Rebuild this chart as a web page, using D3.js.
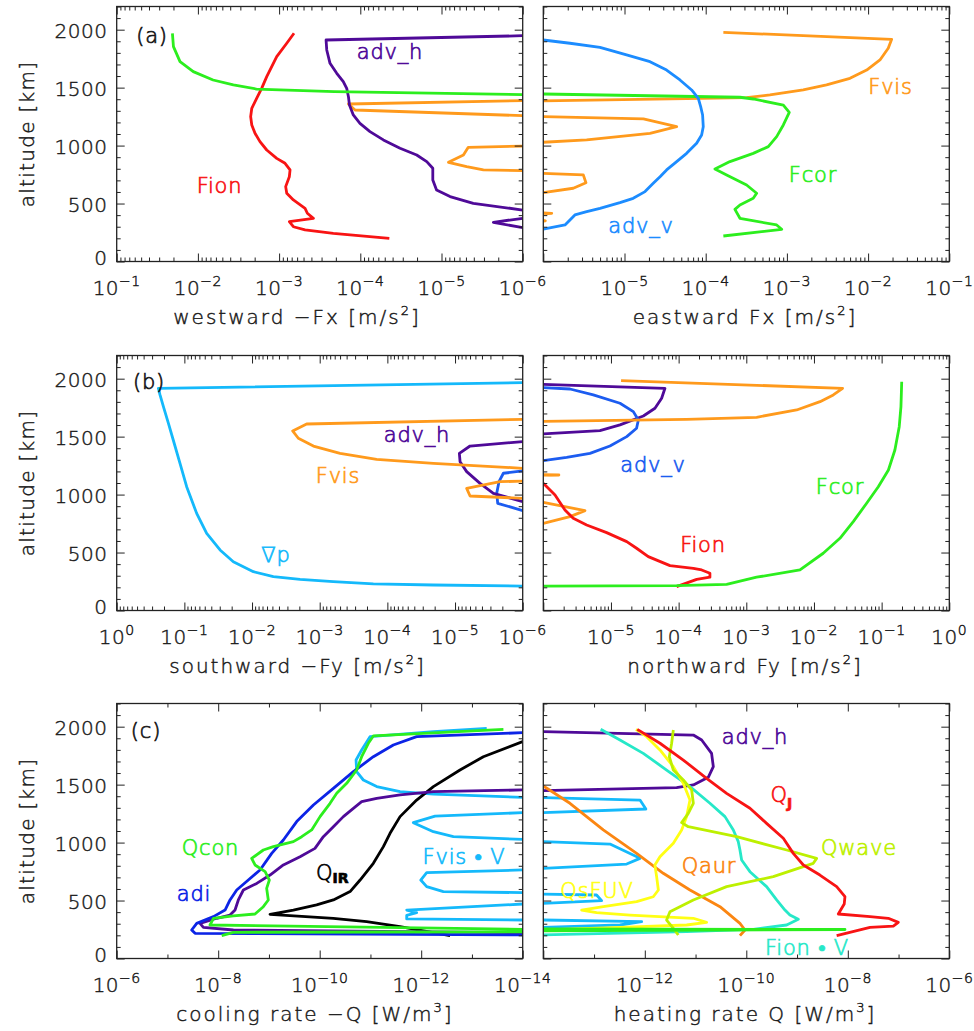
<!DOCTYPE html>
<html>
<head>
<meta charset="utf-8">
<script src="https://cdn.jsdelivr.net/npm/d3@7"></script>
<style>
  body { margin: 0; background: #fff; }
  svg text { font-family: "DejaVu Sans", "Liberation Sans", sans-serif; font-weight: 200; fill: #1a1a1a; stroke: #1a1a1a; stroke-width: 0.45px; }
</style>
</head>
<body>
<svg id="chart" width="974" height="1031"></svg>
<script>
// Profiles are [altitude (km), magnitude] pairs; null splits a profile where it
// changes sign and continues in the neighbouring (opposite-direction) panel.

// ---------- (a) zonal forcing ----------
const fcorWest = [[1969,2.06e-2],[1854,2.0e-2],[1724,1.66e-2],[1638,1.14e-2],[1566,6.5e-3],[1523,3.66e-3],[1488,1.9e-3],[1465,2.1e-4],[1440,1e-6]];
const fionWest = [[1969,6.55e-4],[1883,8.05e-4],[1768,1.07e-3],[1595,1.42e-3],[1494,1.64e-3],[1408,1.89e-3],[1322,2.17e-3],[1250,2.24e-3],[1178,2.17e-3],[1106,1.98e-3],[1034,1.72e-3],[962,1.42e-3],[890,1.07e-3],[847,8.45e-4],[790,7.33e-4],[732,7.48e-4],[646,8.3e-4],[589,8.05e-4],[531,6.67e-4],[459,4.79e-4],[416,4.49e-4],[372,3.78e-4],[344,7.48e-4],[300,6.67e-4],[272,4.79e-4],[243,2.15e-4],[200,4.39e-5]];
const advhWest = [[1948,1e-6],[1911,2.64e-4],[1825,2.59e-4],[1710,2.36e-4],[1624,1.95e-4],[1552,1.62e-4],[1494,1.47e-4],[1422,1.40e-4],[1350,1.36e-4],[1264,1.22e-4],[1192,1.01e-4],[1121,7.6e-5],[1049,5.2e-5],[977,3.24e-5],[919,2.02e-5],[862,1.52e-5],[804,1.28e-5],[704,1.28e-5],[617,1.15e-5],[560,7.85e-6],[502,4.06e-6],[444,1e-6],null,[373,1e-6],[338,2.3e-6],[292,1e-6]];
const fvisWest = [[1388,1e-6],[1359,1.40e-4],[1307,1.16e-4],[1258,1e-6],null,[996,1e-6],[985,4.68e-6],[919,5.37e-6],[856,8.2e-6],[818,4.9e-6],[790,3.05e-6],[784,1e-6]];

const advvEast = [[1911,1e-6],[1883,2.13e-6],[1848,4.99e-6],[1782,1.06e-5],[1724,2.06e-5],[1652,3.30e-5],[1566,4.82e-5],[1480,6.71e-5],[1408,8.11e-5],[1336,8.67e-5],[1264,9.16e-5],[1163,9.33e-5],[1092,8.91e-5],[1020,7.73e-5],[933,5.82e-5],[862,4.39e-5],[790,3.30e-5],[732,2.74e-5],[675,2.26e-5],[603,1.79e-5],[545,1.28e-5],[508,8.79e-6],[459,4.99e-6],[430,3.42e-6],[402,2.45e-6],[358,2.13e-6],[315,1.85e-6],[280,1e-6]];
const fvisEast = [[1977,1.65e-4],[1917,1.95e-2],[1840,1.77e-2],[1739,1.40e-2],[1652,9.6e-3],[1580,5.98e-3],[1523,3.08e-3],[1480,1.59e-3],[1437,6.18e-4],[1414,3.19e-4],[1405,5.82e-5],[1385,1e-6],null,[1250,1e-6],[1230,1.71e-5],[1163,4.39e-5],[1106,2.06e-5],[1049,3.42e-6],[1029,1e-6],null,[761,1e-6],[747,3.11e-6],[680,3.35e-6],[632,2.34e-6],[594,1e-6],null,[420,1e-6],[416,1.27e-6],[412,1e-6],null,[354,1e-6],[351,1.06e-6],[348,1e-6]];
const fcorEast = [[1445,1e-6],[1417,2.64e-4],[1402,3.85e-4],[1350,9.04e-4],[1287,1.07e-3],[1178,9.04e-4],[1077,7.48e-4],[991,5.90e-4],[933,3.85e-4],[862,1.99e-4],[798,1.30e-4],[747,1.81e-4],[660,3.19e-4],[589,4.24e-4],[545,3.85e-4],[488,2.64e-4],[450,2.29e-4],[373,2.64e-4],[315,7.48e-4],[278,8.63e-4],[220,1.65e-4]];

// ---------- (b) meridional forcing ----------
const gradpSouth = [[1966,1e-6],[1917,0.242],[1860,0.229],[1759,0.204],[1615,0.172],[1471,0.146],[1270,0.116],[1068,0.0925],[838,0.0658],[666,0.0468],[522,0.0297],[421,0.0189],[335,9.55e-3],[292,4.84e-3],[269,1.95e-3],[249,6.3e-4],[229,1.61e-4],[220,2.09e-5],[211,1e-6]];
const fvisSouth = [[1649,1e-6],[1609,1.56e-3],[1549,2.51e-3],[1486,2.07e-3],[1419,1.24e-3],[1356,5.0e-4],[1304,1.44e-4],[1270,2.09e-5],[1227,1e-6],null,[1117,1e-6],[1111,2.16e-6],[1054,6.73e-6],[988,6.0e-6],[968,1e-6]];
const advhSouth = [[1457,1e-6],[1419,6.0e-6],[1356,8.63e-6],[1284,8.43e-6],[1198,6.73e-6],[1097,4.27e-6],[1011,2.71e-6],[939,1e-6]];
const advvSouth = [[1204,1e-6],[1184,1.93e-6],[1112,2.24e-6],[1011,2.42e-6],[925,2.34e-6],[862,1e-6]];

const advhNorth = [[1951,1e-6],[1917,6.28e-5],[1831,5.61e-5],[1745,4.47e-5],[1678,3.01e-5],[1601,1.36e-5],[1552,6.87e-6],[1523,1e-6]];
const advvNorth = [[1922,1e-6],[1911,2.48e-6],[1860,5.48e-6],[1788,1.36e-5],[1716,2.14e-5],[1644,2.54e-5],[1572,2.39e-5],[1500,1.71e-5],[1419,9.66e-6],[1356,4.9e-6],[1322,2.21e-6],[1293,1e-6]];
const fvisNorth = [[1983,1.41e-5],[1917,2.65e-2],[1860,1.93e-2],[1802,1.23e-2],[1730,5.55e-3],[1667,1.42e-3],[1649,1.31e-4],[1632,1e-6],null,[1172,1e-6],[1169,1.7e-6],[1166,1e-6],null,[933,1e-6],[862,4.13e-6],[810,2.48e-6],[752,1e-6]];
const fionNorth = [[1097,1e-6],[997,1.49e-6],[867,2.09e-6],[795,2.77e-6],[738,4.37e-6],[672,8.63e-6],[594,1.71e-5],[537,2.39e-5],[465,3.56e-5],[387,7.45e-5],[364,1.65e-4],[350,2.19e-4],[321,2.9e-4],[287,2.9e-4],[269,1.85e-4],[206,9.33e-5]];
const fcorNorth = [[1974,0.198],[1759,0.193],[1586,0.182],[1385,0.157],[1212,0.126],[1068,0.0893],[925,0.06],[767,0.0381],[623,0.0242],[494,0.0137],[350,6.21e-3],[287,1.42e-3],[226,5.12e-4],[214,9.33e-5],[211,1e-6]];

// ---------- (c) energy budget ----------
const adiCool = [[1948,1e-14],[1914,1.23e-12],[1842,3.54e-12],[1741,8.77e-12],[1612,2.17e-11],[1468,5.38e-11],[1324,1.33e-10],[1181,2.84e-10],[1022,5.2e-10],[907,8.83e-10],[764,1.5e-9],[677,2.55e-9],[591,4.32e-9],[505,5.85e-9],[418,7.33e-9],[361,1.24e-8],[303,2.65e-8],[246,3.33e-8],[217,2.86e-8],[203,1e-14]];
const advhCool = [[1454,1e-14],[1439,5.75e-13],[1411,2.61e-12],[1382,7.53e-12],[1353,1.49e-11],[1296,2.17e-11],[1224,3.42e-11],[1137,5.38e-11],[1051,8.47e-11],[950,1.24e-10],[878,2.44e-10],[807,5.2e-10],[720,9.53e-10],[648,1.74e-9],[591,3.19e-9],[505,4.01e-9],[418,4.66e-9],[375,5.85e-9],[347,1.07e-8],[303,2.28e-8],[269,1.96e-8],[246,5.02e-9],[223,1e-14]];
const qconCool = [[1977,2.4e-14],[1920,8.77e-12],[1857,1.1e-11],[1741,1.49e-11],[1626,1.87e-11],[1511,2.94e-11],[1425,4.62e-11],[1339,6.25e-11],[1224,9.84e-11],[1109,1.44e-10],[1051,2.26e-10],[1008,3.3e-10],[965,8.18e-10],[936,1.29e-9],[864,2.19e-9],[807,1.88e-9],[749,1.19e-9],[677,9.82e-10],[605,1.11e-9],[505,1.03e-9],[447,1.29e-9],[384,1.88e-9],[367,5.02e-9],[347,1.24e-8],[289,1.45e-8],[252,1e-14],null,[231,1e-14],[226,5.02e-9],[197,8.53e-9]];
const fvisvCool = [[1986,5.12e-14],[1957,5.75e-13],[1914,1.02e-11],[1799,1.49e-11],[1713,1.92e-11],[1612,1.87e-11],[1540,1.38e-11],[1483,7.53e-12],[1439,2.61e-12],[1419,5.75e-13],[1390,1e-14],null,[1258,1e-14],[1229,5.33e-13],[1172,1.43e-12],[1094,5.75e-13],[1051,2.32e-13],[1028,1e-14],null,[764,1e-14],[741,7.8e-13],[677,1.02e-12],[620,7.8e-13],[577,3.66e-13],[568,1e-14],null,[470,1e-14],[418,1.93e-12],[395,1.23e-12],[372,1.93e-12],[341,1.93e-12],[332,1e-14]];
const qirCool = [[1871,1e-14],[1741,5.96e-14],[1626,1.72e-13],[1483,5.75e-13],[1367,1.23e-12],[1224,2.61e-12],[1080,4.11e-12],[965,5.56e-12],[821,8.77e-12],[677,1.6e-11],[577,2.52e-11],[505,5.38e-11],[462,1.15e-10],[418,3.3e-10],[381,9.53e-10],[347,5.38e-11],[318,1.19e-11],[275,2.61e-12],[197,2.7e-13]];

const advhHeat = [[1957,1e-14],[1928,9.04e-12],[1885,1.32e-11],[1770,2.07e-11],[1655,2.24e-11],[1563,1.78e-11],[1497,9.04e-12],[1474,4.24e-12],[1448,1e-14]];
const qjHeat = [[1977,7.11e-13],[1857,1.99e-12],[1712,5.74e-12],[1554,1.65e-11],[1425,4.09e-11],[1296,1.18e-10],[1166,2.51e-10],[1037,5.36e-10],[907,8.43e-10],[807,1.33e-9],[720,2.82e-9],[620,6.03e-9],[533,8.79e-9],[470,8.5e-9],[384,6.5e-9],[361,2.74e-8],[347,6.28e-8],[312,9.89e-8],[280,7.89e-8],[269,2.74e-8],[197,6.03e-9]];
const fionvHeat = [[1977,1.35e-13],[1885,3.24e-13],[1770,9.33e-13],[1626,2.69e-12],[1483,7.76e-12],[1339,1.92e-11],[1224,3.8e-11],[1109,5.55e-11],[1008,6.95e-11],[936,7.5e-11],[850,8.09e-11],[749,1.18e-10],[620,2.51e-10],[505,3.96e-10],[418,5.78e-10],[375,7.24e-10],[338,1.06e-9],[289,6.24e-10],[252,1.37e-10],[232,6.67e-12],[203,1e-14]];
const qsfuvHeat = [[1977,6.7e-13],[1914,1.09e-12],[1799,1.99e-12],[1655,3.65e-12],[1511,5.74e-12],[1367,7.76e-12],[1224,6.67e-12],[1109,5.32e-12],[994,3.65e-12],[878,1.99e-12],[807,1.58e-12],[706,1.71e-12],[591,1.85e-12],[533,1.47e-12],[490,6.9e-13],[447,1.52e-13],[418,5.69e-14],[395,1.12e-13],[375,5.1e-13],[347,9.04e-12],[312,1.65e-11],[289,6.67e-12],[269,3.24e-13],[246,1e-14]];
const qwaveHeat = [[1971,3.65e-12],[1857,3.38e-12],[1741,3.04e-12],[1626,3.65e-12],[1540,5.74e-12],[1454,8.38e-12],[1339,9.04e-12],[1252,7.19e-12],[1172,5.32e-12],[1137,7.19e-12],[1051,6.45e-11],[936,6.24e-10],[864,2.43e-9],[821,2.09e-9],[792,1.33e-9],[706,3.4e-10],[620,4.09e-11],[505,9.04e-12],[404,3.13e-12],[332,2.69e-12],[260,3.65e-12],[203,4.57e-12]];
const qaurHeat = [[1488,1e-14],[1339,3.35e-14],[1109,1.52e-13],[907,6.9e-13],[735,2.31e-12],[591,7.76e-12],[447,3.03e-11],[303,7.5e-11],[246,9.42e-11],[197,7.5e-11]];
const qconHeat = [[255,1e-14],[250,8.8e-9],[238,1e-14]];
const fvisvHeat = [[1388,1e-14],[1367,8.04e-13],[1290,1.05e-12],[1258,1e-14],null,[1008,1e-14],[987,2.06e-13],[864,8.04e-13],[815,4.39e-13],[778,1e-14],null,[556,1e-14],[548,1.12e-13],[499,1.41e-13],[476,1e-14],null,[332,1e-14],[318,8.67e-13],[289,3.24e-13],[269,1e-14]];

// ---------- axis ticks ----------
const altMajor = [0, 500, 1000, 1500, 2000];
const altMinor = d3.range(0, 2201, 100).filter(v => v % 500 !== 0);
const expsA_left = [-1, -2, -3, -4, -5, -6];
const expsA_right = [-5, -4, -3, -2, -1];
const expsB_left = [0, -1, -2, -3, -4, -5, -6];
const expsB_right = [-5, -4, -3, -2, -1, 0];
const expsC_left = [-6, -8, -10, -12, -14];
const expsC_right = [-12, -10, -8, -6];

// ---------- colours ----------
const GREEN = "#2cee1e", RED = "#f81414", PURPLE = "#4f0a98", ORANGE = "#ff9a1c",
      BLUE_A = "#1c8cff", SKY = "#14b9fb", BLUE_B = "#1c5cf0", ADI = "#0c24e6",
      BLACK = "#000000", LIME = "#bdf000", DKORANGE = "#fb8612", YELLOW = "#ffff14", TURQ = "#26e8c8";

// ---------- layout ----------
const cols = { L: { x0: 116.7, x1: 522.7 }, R: { x0: 543.3, x1: 949.3 } };
const rows = [
  { y0: 6.5,   y1: 261.5, tickBase: 295,   titleBase: 324 },
  { y0: 355.5, y1: 610.5, tickBase: 643.5, titleBase: 672.5 },
  { y0: 703.5, y1: 958.5, tickBase: 992,   titleBase: 1021 }
];

const panels = [
  { row: 0, col: "L", domain: [1e-1, 1e-6], exps: expsA_left, every: 1, title: ["westward \u2212Fx [m/s", "2", "]"], titleX: 297,
    series: [[fvisWest, ORANGE], [advhWest, PURPLE], [fionWest, RED], [fcorWest, GREEN]] },
  { row: 0, col: "R", domain: [1e-6, 1e-1], exps: expsA_right, every: 1, title: ["eastward Fx [m/s", "2", "]"], titleX: 745,
    series: [[fvisEast, ORANGE], [fcorEast, GREEN], [advvEast, BLUE_A]] },
  { row: 1, col: "L", domain: [1e0, 1e-6], exps: expsB_left, every: 1, title: ["southward \u2212Fy [m/s", "2", "]"], titleX: 297.5,
    series: [[advvSouth, BLUE_B], [advhSouth, PURPLE], [fvisSouth, ORANGE], [gradpSouth, SKY]] },
  { row: 1, col: "R", domain: [1e-6, 1e0], exps: expsB_right, every: 1, title: ["northward Fy [m/s", "2", "]"], titleX: 745,
    series: [[advhNorth, PURPLE], [advvNorth, BLUE_B], [fvisNorth, ORANGE], [fionNorth, RED], [fcorNorth, GREEN]] },
  { row: 2, col: "L", domain: [1e-6, 1e-14], exps: expsC_left, every: 2, title: ["cooling rate \u2212Q [W/m", "3", "]"], titleX: 315,
    series: [[fvisvCool, SKY], [qirCool, BLACK], [advhCool, PURPLE], [adiCool, ADI], [qconCool, GREEN]] },
  { row: 2, col: "R", domain: [1e-14, 1e-6], exps: expsC_right, every: 2, title: ["heating rate Q [W/m", "3", "]"], titleX: 745,
    series: [[fvisvHeat, SKY], [advhHeat, PURPLE], [qaurHeat, DKORANGE], [fionvHeat, TURQ], [qsfuvHeat, YELLOW], [qwaveHeat, LIME], [qjHeat, RED], [qconHeat, GREEN]] }
];

const labels = [
  { t: "(a)",  x: 152,   y: 43,    c: "#1a1a1a" },
  { t: "adv_h", x: 390,  y: 59,    c: PURPLE },
  { t: "Fion", x: 219.5, y: 192.5, c: RED },
  { t: "Fvis", x: 890.5, y: 94,    c: ORANGE },
  { t: "Fcor", x: 813,   y: 181.5, c: GREEN },
  { t: "adv_v", x: 641,  y: 233,   c: BLUE_A },
  { t: "(b)",  x: 149,   y: 389,   c: "#1a1a1a" },
  { t: "adv_h", x: 417,  y: 442,   c: PURPLE },
  { t: "Fvis", x: 338,   y: 482.5, c: ORANGE },
  { t: "\u2207p", x: 276, y: 561.5, c: SKY },
  { t: "adv_v", x: 653,  y: 471.5, c: BLUE_B },
  { t: "Fcor", x: 840,   y: 494,   c: GREEN },
  { t: "Fion", x: 703,   y: 552,   c: RED },
  { t: "(c)",  x: 146,   y: 738,   c: "#1a1a1a" },
  { t: "Qcon", x: 210.5, y: 855,   c: GREEN },
  { t: "adi",  x: 194,   y: 900.5, c: ADI },
  { t: "Fvis \u2022 V", x: 464, y: 864, c: SKY },
  { t: "adv_h", x: 755,  y: 744,   c: PURPLE },
  { t: "Qwave", x: 859,  y: 855,   c: LIME },
  { t: "Qaur", x: 709,   y: 872.5, c: DKORANGE },
  { t: "QsFUV", x: 597,  y: 898,   c: YELLOW },
  { t: "Fion \u2022 V", x: 807, y: 955, c: TURQ }
];

const svg = d3.select("#chart");
const defs = svg.append("defs");
const AXIS = "#222";

panels.forEach((p, i) => {
  const r = rows[p.row], c = cols[p.col];
  const x = d3.scaleLog().domain(p.domain).range([c.x0, c.x1]);
  const y = d3.scaleLinear().domain([0, 2200]).range([r.y1, r.y0]);
  const g = svg.append("g");

  defs.append("clipPath").attr("id", "clip" + i)
    .append("rect").attr("x", c.x0).attr("y", r.y0)
    .attr("width", c.x1 - c.x0).attr("height", r.y1 - r.y0);

  // profiles
  const line = d3.line().defined(d => d !== null).x(d => x(d[1])).y(d => y(d[0]));
  const plot = g.append("g").attr("clip-path", `url(#clip${i})`);
  p.series.forEach(([data, col]) => {
    plot.append("path").datum(data).attr("d", line)
      .attr("fill", "none").attr("stroke", col).attr("stroke-width", 2.8)
      .attr("stroke-linejoin", "round").attr("stroke-linecap", "butt");
  });

  // x ticks: decades (labelled every p.every), minors 2..9 when every === 1
  const [lo, hi] = d3.extent(p.domain.map(v => Math.round(Math.log10(v))));
  const decades = d3.range(lo, hi + 1);
  const majors = decades.filter(e => e % p.every === 0).map(e => Math.pow(10, e));
  let minors = [];
  if (p.every === 1) {
    decades.slice(0, -1).forEach(e => { for (let k = 2; k <= 9; k++) minors.push(k * Math.pow(10, e)); });
  } else {
    minors = decades.filter(e => e % p.every !== 0).map(e => Math.pow(10, e));
  }

  const styleAxis = sel => {
    sel.select(".domain").remove();
    sel.selectAll("line").attr("stroke", AXIS).attr("stroke-width", 1);
    sel.selectAll("text").remove();
  };
  const ax = (gen, tx, ty) => g.append("g").attr("transform", `translate(${tx},${ty})`).call(gen).call(styleAxis);

  ax(d3.axisBottom(x).tickValues(majors).tickSize(-8).tickSizeOuter(0), 0, r.y1);
  ax(d3.axisBottom(x).tickValues(minors).tickSize(-4).tickSizeOuter(0), 0, r.y1);
  ax(d3.axisTop(x).tickValues(majors).tickSize(-8).tickSizeOuter(0), 0, r.y0);
  ax(d3.axisTop(x).tickValues(minors).tickSize(-4).tickSizeOuter(0), 0, r.y0);
  ax(d3.axisLeft(y).tickValues(altMajor).tickSize(-8).tickSizeOuter(0), c.x0, 0);
  ax(d3.axisLeft(y).tickValues(altMinor).tickSize(-4).tickSizeOuter(0), c.x0, 0);
  ax(d3.axisRight(y).tickValues(altMajor).tickSize(-8).tickSizeOuter(0), c.x1, 0);
  ax(d3.axisRight(y).tickValues(altMinor).tickSize(-4).tickSizeOuter(0), c.x1, 0);

  g.append("rect").attr("x", c.x0).attr("y", r.y0)
    .attr("width", c.x1 - c.x0).attr("height", r.y1 - r.y0)
    .attr("fill", "none").attr("stroke", AXIS).attr("stroke-width", 1.3);

  // x tick labels 10^n
  p.exps.forEach(e => {
    const t = g.append("text").attr("x", x(Math.pow(10, e))).attr("y", r.tickBase)
      .attr("text-anchor", "middle").style("font-size", "20px").style("letter-spacing", "0.5px");
    t.append("tspan").text("10");
    t.append("tspan").attr("dy", -9).style("font-size", "14px").text(e === 0 ? "0" : "\u2212" + Math.abs(e));
  });

  // x title
  const tt = g.append("text").attr("x", p.titleX).attr("y", r.titleBase)
    .attr("text-anchor", "middle").style("font-size", "20px").style("letter-spacing", "2px");
  tt.append("tspan").text(p.title[0]);
  tt.append("tspan").attr("dy", -9).style("font-size", "13px").text(p.title[1]);
  tt.append("tspan").attr("dy", 9).text(p.title[2]);

  // y labels on left panels only
  if (p.col === "L") {
    altMajor.forEach(v => {
      g.append("text").attr("x", 107.5).attr("y", y(v) + (v === 0 ? 3 : 8.5))
        .attr("text-anchor", "end").style("font-size", "20px").style("letter-spacing", "0.5px").text(v);
    });
    const cy = (r.y0 + r.y1) / 2;
    g.append("text").attr("transform", `translate(33.5,${cy}) rotate(-90)`)
      .attr("text-anchor", "middle").style("font-size", "20px").style("letter-spacing", "1.3px")
      .text("altitude [km]");
  }
});

// curve labels
labels.forEach(l => {
  svg.append("text").attr("x", l.x).attr("y", l.y).attr("text-anchor", "middle")
    .style("font-size", "21px").style("letter-spacing", "0.8px")
    .style("fill", l.c).style("stroke", l.c).style("stroke-width", "0.7px").text(l.t);
});

// labels carrying subscripts
const qir = svg.append("text").attr("x", 316).attr("y", 880).style("font-size", "21px")
  .style("fill", BLACK).style("stroke", BLACK).style("stroke-width", "0.7px");
qir.append("tspan").text("Q");
qir.append("tspan").attr("dy", 3).style("font-size", "14px").style("font-weight", "700").text("IR");

const qj = svg.append("text").attr("x", 770.5).attr("y", 801.5).style("font-size", "21px")
  .style("fill", RED).style("stroke", RED).style("stroke-width", "0.7px");
qj.append("tspan").text("Q");
qj.append("tspan").attr("dy", 6).style("font-size", "14px").style("font-weight", "700").text("J");
</script>
</body>
</html>
